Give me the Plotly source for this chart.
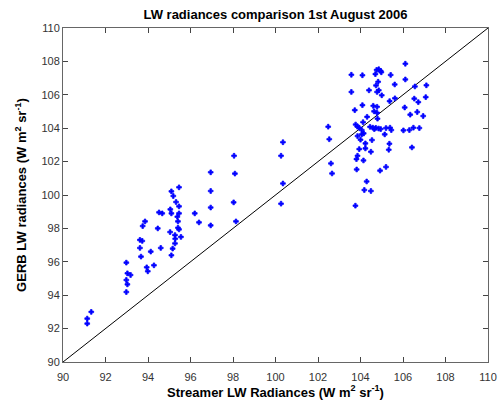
import plotly.graph_objects as go

streamer = [
    91.14, 91.14, 91.33,
    92.98, 92.98, 93.03, 93.18, 93.03, 92.98,
    93.75, 93.86, 93.62, 93.73, 93.62, 93.67,
    93.94, 93.99, 94.13, 94.28, 94.46, 94.52, 94.67, 94.60,
    95.10, 95.19, 95.32, 95.46, 95.46, 95.05, 95.10, 95.38, 95.46, 95.41, 95.04, 95.41,
    95.46, 95.27, 95.28, 95.27, 95.55, 95.16, 95.10,
    96.20, 96.40, 96.95, 96.95, 96.95, 96.95, 98.05, 98.09, 98.03, 98.14,
    100.35, 100.26, 100.35, 100.26,
    102.48, 102.53, 102.61, 102.66,
    106.11, 106.11, 103.57, 104.09, 103.57, 104.40,
    104.76, 104.86, 104.95, 104.70, 104.98, 105.42, 104.83,
    104.73, 104.86, 104.78, 105.00, 105.61, 106.56, 107.10, 107.07,
    105.37, 105.62, 106.53, 106.72, 104.09, 103.73, 104.60, 104.78, 104.64, 104.78,
    106.08, 106.67, 106.34, 106.95, 104.12, 104.31, 104.80,
    103.77, 103.86, 103.94,
    104.45, 104.58, 104.72, 104.85, 104.95, 104.65,
    105.20, 105.39, 105.45, 106.02, 106.30, 106.49, 106.77,
    103.86, 104.06, 104.15, 104.00, 104.54, 105.14, 105.36, 104.23, 103.94, 104.23,
    106.42, 105.33, 105.20, 104.92, 104.06,
    104.49, 103.86, 103.81, 104.14, 103.82, 104.29, 104.18, 104.49, 103.76,
]
gerb = [
    92.60, 92.30, 93.00,
    95.95, 94.91, 95.31, 95.21, 94.65, 94.19,
    98.14, 98.42, 97.31, 97.25, 96.83, 96.31,
    95.67, 95.43, 96.61, 95.79, 98.00, 98.96, 98.90, 96.83,
    100.22, 99.94, 99.58, 99.32, 100.46, 99.14, 98.90, 98.70, 98.90, 98.42, 97.78, 98.04,
    97.94, 97.60, 97.38, 97.10, 97.49, 96.79, 96.39,
    98.90, 98.36, 101.36, 100.24, 99.25, 98.18, 102.35, 101.28, 99.56, 98.42,
    103.16, 102.35, 100.69, 99.48,
    104.09, 103.34, 101.89, 101.29,
    107.86, 106.92, 107.20, 107.17, 106.17, 106.27,
    107.49, 107.53, 107.43, 107.24, 107.35, 107.19, 106.78,
    106.56, 106.27, 106.17, 105.97, 106.62, 106.50, 106.57, 105.86,
    105.62, 105.79, 105.77, 105.56, 105.38, 105.08, 105.34, 105.28, 105.01, 104.92,
    105.24, 104.97, 104.81, 104.73, 104.36, 104.68, 104.57,
    104.22, 104.09, 104.03,
    104.08, 104.03, 104.02, 103.98, 103.95, 103.95,
    104.01, 104.03, 103.89, 103.87, 103.89, 104.03, 104.01,
    103.53, 103.63, 103.69, 103.31, 103.29, 103.63, 103.07, 103.09, 102.75, 102.79,
    102.85, 102.71, 101.68, 101.46, 103.89,
    102.59, 102.35, 102.15, 102.07, 101.53, 100.81, 100.30, 100.24, 99.36,
]
one_to_one = [90, 110]
tick_vals = [90, 92, 94, 96, 98, 100, 102, 104, 106, 108, 110]

fig = go.Figure()
fig.add_trace(go.Scatter(x=one_to_one, y=one_to_one, mode="lines",
                         line=dict(color="black", width=1), hoverinfo="skip"))
fig.add_trace(go.Scatter(x=streamer, y=gerb, mode="markers",
                         marker=dict(symbol="cross", size=4, color="#0000ff",
                                     line=dict(width=0.7, color="#0000ff"))))

axis_common = dict(
    tickmode="array", tickvals=tick_vals, ticktext=[str(v) for v in tick_vals],
    ticks="inside", ticklen=5, tickcolor="#444", tickwidth=1,
    showline=True, linecolor="#666", linewidth=1, mirror="ticks",
    showgrid=False, zeroline=False, automargin=False,
    ticklabeloverflow="allow",
    tickfont=dict(family="Liberation Sans, Arial", size=11, color="#333"),
)
fig.update_xaxes(range=[90, 110], **axis_common, ticklabelstandoff=5,
                 title=dict(text="<b>Streamer LW Radiances (W m<sup>2</sup> sr<sup>-1</sup>)</b>",
                            font=dict(family="Liberation Sans, Arial", size=13, color="black"),
                            standoff=4))
fig.update_yaxes(range=[90, 110], **axis_common,
                 title=dict(text="<b>GERB LW radiances (W m<sup>2</sup> sr<sup>-1</sup>)</b>",
                            font=dict(family="Liberation Sans, Arial", size=13, color="black"),
                            standoff=11))
fig.update_layout(
    width=499, height=410,
    margin=dict(l=63, r=11, t=28, b=48),
    paper_bgcolor="white", plot_bgcolor="white",
    showlegend=False,
    title=dict(text="<b>LW radiances comparison 1st August 2006</b>",
               x=0.552, xanchor="center", y=0.965, yanchor="middle",
               font=dict(family="Liberation Sans, Arial", size=13, color="black")),
)
fig.write_html("out.html", config={"displayModeBar": False},
               post_script="document.body.style.margin='0';")
